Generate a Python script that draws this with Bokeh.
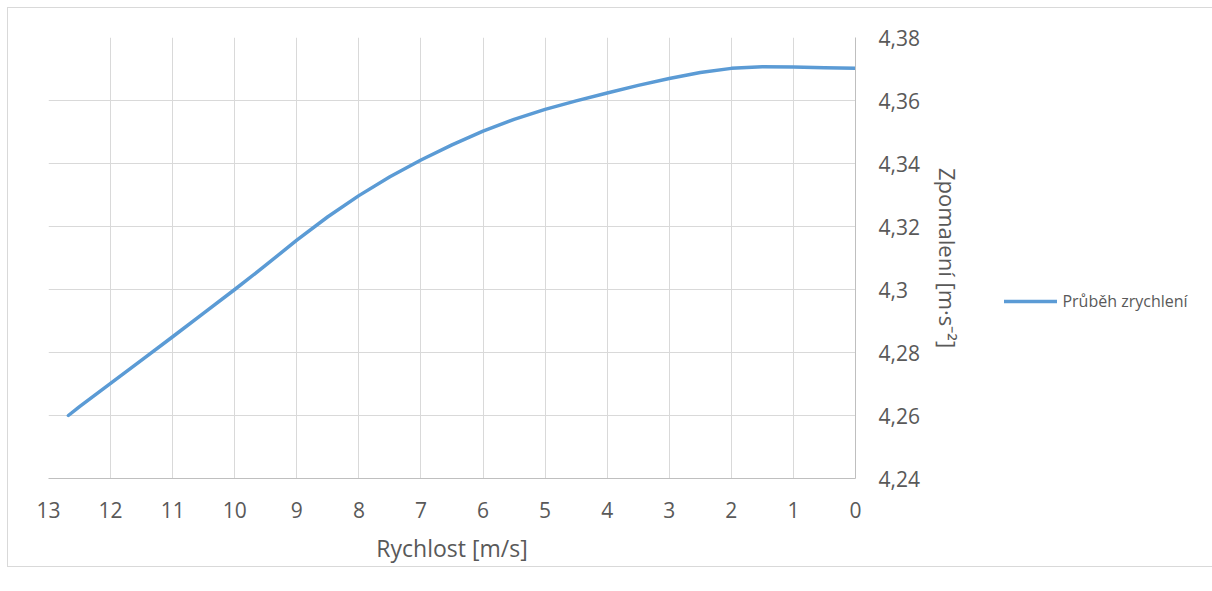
from bokeh.plotting import figure
from bokeh.models import (Range1d, FixedTicker, CustomJSTickFormatter, Legend,
                          LegendItem, ColumnDataSource)
from bokeh.embed import file_html
from bokeh.resources import INLINE

# speed [m/s]
speed = [12.68, 12.5, 12.0, 11.5, 11.0, 10.5, 10.0, 9.5, 9.0, 8.5, 8.0, 7.5, 7.0,
         6.5, 6.0, 5.5, 5.0, 4.5, 4.0, 3.5, 3.0, 2.5, 2.0, 1.5, 1.0, 0.5, 0.0]
# deceleration [m/s^2]
decel = [4.2600, 4.2628, 4.2702, 4.2776, 4.2850, 4.2925, 4.3000, 4.3077, 4.3157,
         4.3231, 4.3298, 4.3358, 4.3411, 4.3459, 4.3503, 4.3540, 4.3572, 4.3599,
         4.3624, 4.3648, 4.3670, 4.3689, 4.3702, 4.3707, 4.3706, 4.3704, 4.3702]

x_ticks = list(range(0, 14))
y_ticks = [4.24, 4.26, 4.28, 4.30, 4.32, 4.34, 4.36, 4.38]

series_name = "Průběh zrychlení"
x_title = "Rychlost [m/s]"
y_title = "Zpomalení [m·s⁻²]"

FONT = "Open Sans"
TXT = "#595959"

p = figure(width=1197, height=580, output_backend="svg", toolbar_location=None,
           x_range=Range1d(13, 0), y_range=Range1d(4.24, 4.38),
           y_axis_location="right",
           min_border_left=40, min_border_top=29, min_border_right=0,
           min_border_bottom=10,
           frame_width=807, frame_height=441)
p.styles = {"border": "1px solid #d9d9d9", "margin-left": "7px",
            "margin-top": "7px"}
p.outline_line_color = None
p.background_fill_color = "white"
p.border_fill_color = "white"

p.xgrid.grid_line_color = "#d9d9d9"
p.ygrid.grid_line_color = "#d9d9d9"
p.xgrid.grid_line_width = 1
p.ygrid.grid_line_width = 1

p.xaxis.ticker = FixedTicker(ticks=x_ticks)
p.yaxis.ticker = FixedTicker(ticks=y_ticks)
p.yaxis.formatter = CustomJSTickFormatter(code="""
    let s = tick.toFixed(2);
    s = s.replace(/0+$/, '').replace(/\\.$/, '');
    return s.replace('.', ',');
""")
for ax in (p.xaxis[0], p.yaxis[0]):
    ax.axis_line_color = "#bfbfbf"
    ax.axis_line_width = 1
    ax.major_tick_line_color = None
    ax.minor_tick_line_color = None
    ax.major_label_text_font = FONT
    ax.major_label_text_font_size = "21px"
    ax.major_label_text_color = TXT
    ax.axis_label_text_font = FONT
    ax.axis_label_text_color = TXT
    ax.axis_label_text_font_style = "normal"

p.xaxis.axis_label = x_title
p.xaxis.axis_label_text_font_size = "23px"
p.xaxis.major_label_standoff = 17
p.xaxis.axis_label_standoff = 11
p.yaxis.axis_label = y_title
p.yaxis.axis_label_text_font_size = "22px"
p.yaxis.major_label_standoff = 17
p.yaxis.axis_label_standoff = 10

src = ColumnDataSource(dict(x=speed, y=decel))
r = p.line("x", "y", source=src, line_color="#5b9bd5", line_width=3.5,
           line_cap="round", line_join="round")

legend = Legend(items=[LegendItem(label=series_name, renderers=[r])],
                location=(-185, 166), orientation="vertical",
                border_line_color=None, background_fill_alpha=0,
                padding=0, margin=0, spacing=0,
                glyph_width=53, glyph_height=20, label_standoff=5,
                label_text_font=FONT, label_text_font_size="16px",
                label_text_color=TXT)
p.add_layout(legend, "right")

open("out.html", "w").write(file_html(p, INLINE))
